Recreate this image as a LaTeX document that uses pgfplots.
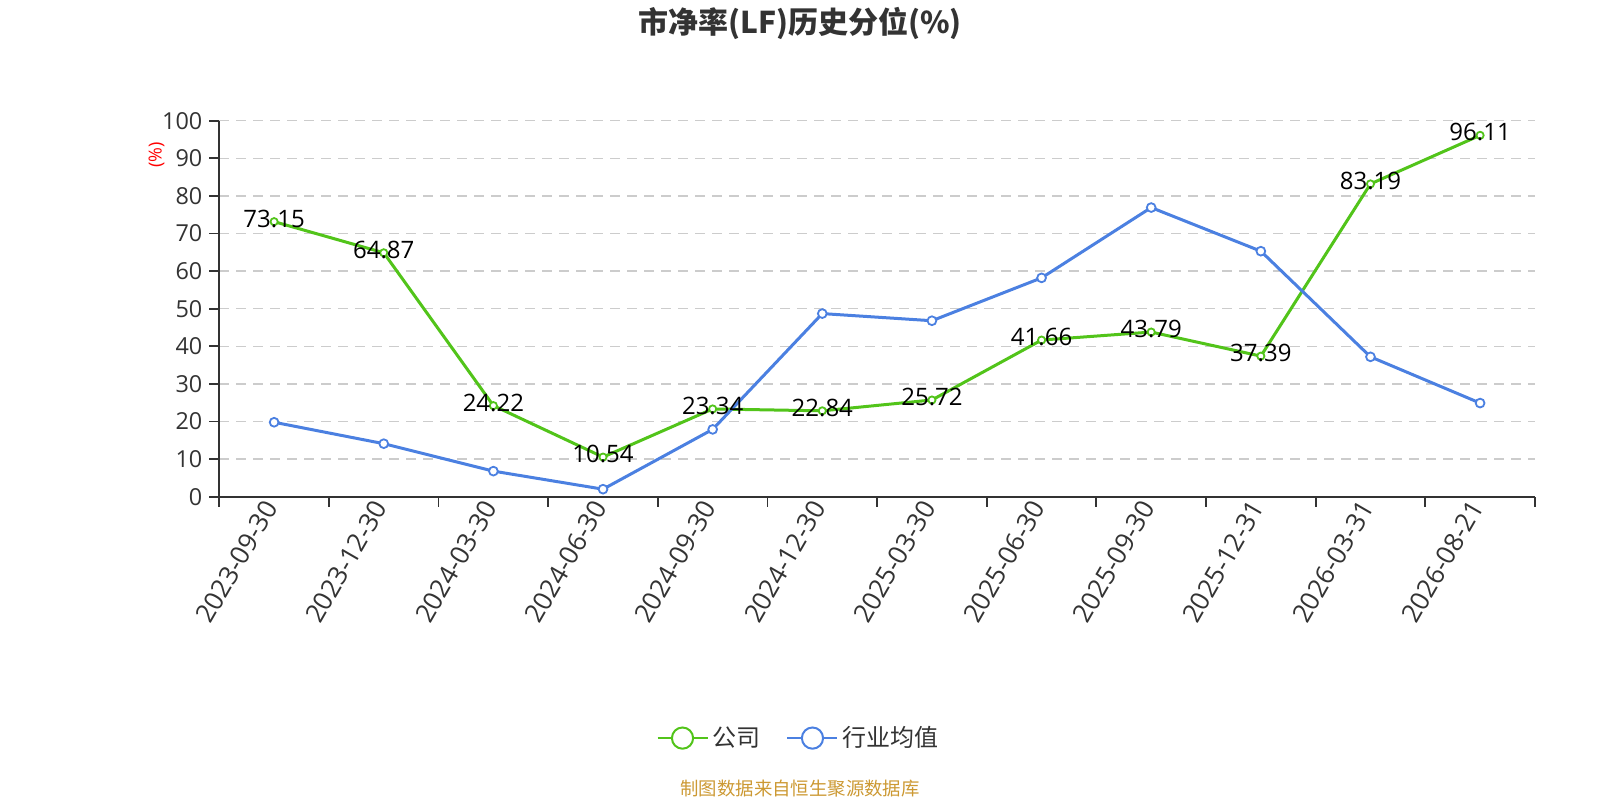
\documentclass[border=0pt]{standalone}
\usepackage{pgfplots}
\pgfplotsset{compat=1.18}
\usepackage{fontspec}
\setmainfont{Open Sans}
\newfontfamily\cjk{Noto Sans CJK SC}
\definecolor{cgreen}{RGB}{82,196,26}
\definecolor{cblue}{RGB}{75,128,225}
\definecolor{cgrid}{RGB}{204,204,204}
\definecolor{caxis}{RGB}{51,51,51}
\definecolor{csrc}{RGB}{204,153,51}
\begin{document}
\begin{tikzpicture}[x=1bp,y=1bp]
\useasboundingbox (0,0) rectangle (800,400);
\begin{axis}[
  at={(109.65bp,151.65bp)}, anchor=south west,
  scale only axis, width=657.8bp, height=188bp,
  xmin=-0.5, xmax=11.5, ymin=0, ymax=100,
  axis x line=bottom, axis y line=left,
  axis line style={caxis, line width=0.9bp, -},
  ytick={0,10,...,100},
  ymajorgrids,
  grid style={cgrid, dash pattern=on 5bp off 3.5bp, line width=0.7bp},
  tick align=outside,
  major tick length=5bp,
  tick style={caxis, line width=0.9bp},
  xtick={-0.5,0.5,...,11.5},
  xticklabels={},
  extra x ticks={0,1,2,3,4,5,6,7,8,9,10,11},
  extra x tick labels={2023-09-30,2023-12-30,2024-03-30,2024-06-30,2024-09-30,2024-12-30,2025-03-30,2025-06-30,2025-09-30,2025-12-31,2026-03-31,2026-08-21},
  extra x tick style={major tick length=0pt, grid=none},
  xticklabel style={rotate=60, anchor=east, font=\fontsize{13bp}{15bp}\selectfont, text=caxis},
  yticklabel style={font=\fontsize{11.7bp}{14bp}\selectfont, text=caxis},
  /pgf/number format/assume math mode=true,
  clip=false,
  legend style={at={(0.4410,-0.642)}, anchor=center, draw=none, fill=none,
    legend columns=2, font=\cjk\fontsize{12bp}{14bp}\selectfont, text=caxis,
    /tikz/every even column/.append style={column sep=11bp}},
]
\addplot[cgreen, line width=1.5bp, mark=*, mark size=1.8bp,
  mark options={fill=white, draw=cgreen, line width=0.9bp},
  point meta=explicit symbolic,
  nodes near coords,
  every node near coord/.style={anchor=center, yshift=1.5bp, text=black, font=\fontsize{12bp}{14bp}\selectfont},
  legend image code/.code={
    \draw[cgreen, line width=1bp] (0bp,0bp) -- (25bp,0bp);
    \draw[cgreen, fill=white, line width=1bp] (12.5bp,0bp) circle (5.3bp);}
] coordinates {
(0,73.15) [73.15]
(1,64.87) [64.87]
(2,24.22) [24.22]
(3,10.54) [10.54]
(4,23.34) [23.34]
(5,22.84) [22.84]
(6,25.72) [25.72]
(7,41.66) [41.66]
(8,43.79) [43.79]
(9,37.39) [37.39]
(10,83.19) [83.19]
(11,96.11) [96.11]
};
\addlegendentry{公司}
\addplot[cblue, line width=1.5bp, mark=*, mark size=2.2bp,
  mark options={fill=white, draw=cblue, line width=0.9bp},
  legend image code/.code={
    \draw[cblue, line width=1bp] (0bp,0bp) -- (25bp,0bp);
    \draw[cblue, fill=white, line width=1bp] (12.5bp,0bp) circle (5.3bp);}
] coordinates {
(0,19.8) (1,14.1) (2,6.8) (3,2.0) (4,17.9) (5,48.7)
(6,46.8) (7,58.2) (8,76.9) (9,65.3) (10,37.2) (11,24.9)
};
\addlegendentry{行业均值}
\end{axis}
\node[text=caxis] at (400,388.5) {\cjk\bfseries\fontsize{15bp}{18bp}\selectfont 市净率(LF)历史分位(\%)};
\node[rotate=90, text=red, font=\fontsize{9bp}{10bp}\selectfont] at (78.3,322.5) {(\%)};
\node[text=csrc] at (400,5.5) {\cjk\fontsize{9.2bp}{11bp}\selectfont 制图数据来自恒生聚源数据库};
\end{tikzpicture}
\end{document}
